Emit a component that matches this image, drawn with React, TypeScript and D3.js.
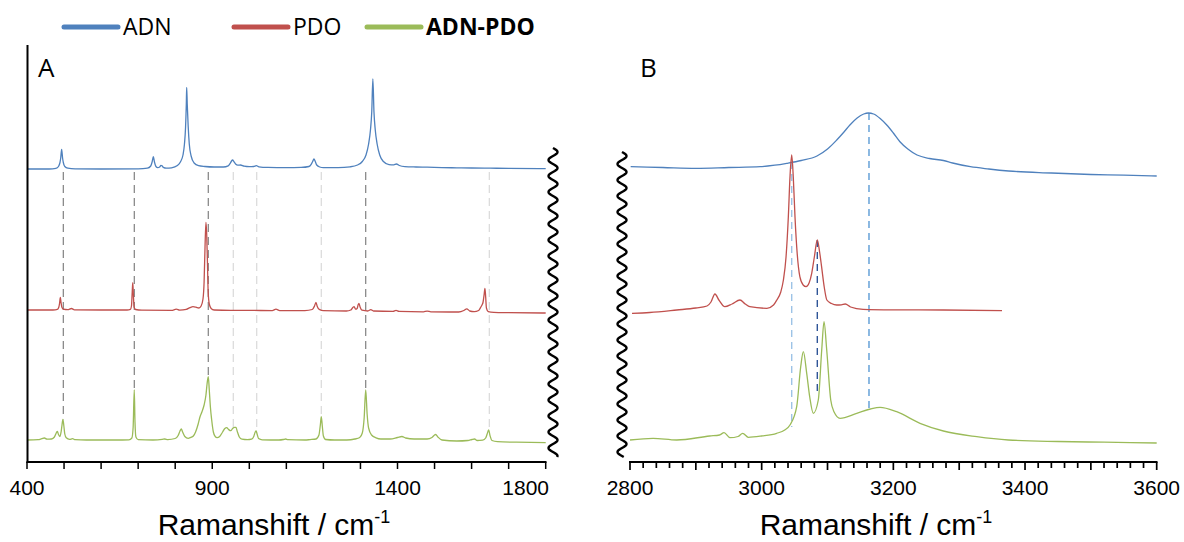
import React from "react";
import * as d3 from "d3";

const W = 1184;
const H = 542;

const legendNames = ["ADN", "PDO", "ADN-PDO"];
const legendColors = ["#4F81BD", "#C0504D", "#9BBB59"];

// ---- panel A: 400-1800 cm-1 (intensity in arbitrary, offset units) ----
const adnA: [number, number][] = [
  [400, 293], [460, 293], [478, 293.6], [485, 295.5], [489, 299.5], [491, 304], [493.5, 312.7],
  [496, 304], [498, 299.5], [502, 295.5], [510, 293.8], [530, 293.2], [600, 293], [700, 293.2],
  [725, 293.8], [734, 296], [738, 300.5], [741, 305.3], [744, 300], [748, 295.5], [753, 294.3],
  [758, 295], [761.5, 296.5], [764.5, 296.2], [768, 294.6], [776, 293.8], [790, 294.2], [806, 296.5],
  [814, 300], [821, 307], [825, 318], [828, 335], [830, 358], [831, 374.7], [832.5, 358], [835, 336],
  [838, 318], [843, 306], [851, 299], [863, 296.3], [880, 295.5], [905, 295], [930, 295], [943, 296.2],
  [949, 299], [952, 301], [955, 302], [958, 300.6], [963, 298], [969, 296.8], [976, 297], [986, 295.8],
  [1000, 295.3], [1012, 295.5], [1019, 296.3], [1026, 295.2], [1050, 294.6], [1100, 294.4],
  [1140, 294.6], [1161, 295.5], [1167, 297.6], [1171, 300.5], [1174.5, 303], [1178, 300.5],
  [1182, 297], [1190, 295], [1200, 294.4], [1240, 294.4], [1272, 295.2], [1292, 297], [1305, 300.5],
  [1315, 307], [1322, 318], [1327, 332], [1330.5, 350], [1333.5, 383], [1336.5, 350], [1340, 332],
  [1345, 318], [1352, 307], [1362, 300.5], [1377, 297.4], [1390, 297.2], [1397, 298], [1405, 296.5],
  [1420, 295.4], [1450, 295], [1480, 294.8], [1520, 294.4], [1560, 294.2], [1600, 294],
  [1650, 293.8], [1700, 293.6], [1800, 293.4],
];

const pdoA: [number, number][] = [
  [400, 152], [470, 152], [482, 152.6], [486, 155], [488, 159], [490, 164.7], [492, 159], [494, 155],
  [498, 152.8], [510, 152.3], [520, 153.5], [528, 152.2], [600, 152], [670, 152], [679, 152.6],
  [682, 156], [684, 170], [685.5, 179.3], [687, 168], [689, 155], [693, 152.5], [710, 151.8],
  [790, 151.6], [803, 152.8], [812, 151.8], [830, 152.6], [840, 154.4], [848, 155.3], [856, 154.8],
  [864, 154], [870, 156], [875, 163], [878, 180], [880.5, 215], [883, 239.7], [885, 228], [887, 200],
  [889, 170], [892, 158], [897, 153.5], [905, 152], [950, 151.6], [1000, 151.6], [1062, 151.4],
  [1072, 152.8], [1082, 151.4], [1150, 151.4], [1170, 152.5], [1176, 156], [1180, 159.7],
  [1183, 156], [1186, 153.7], [1190, 152.4], [1200, 151.3], [1262, 151], [1274, 152], [1280, 154.8],
  [1283, 155.3], [1287, 152.8], [1291, 153.5], [1294, 157.5], [1296, 158.7], [1299, 155],
  [1304, 151.8], [1320, 151], [1328, 152.4], [1335, 151], [1388, 150.6], [1396, 151.6],
  [1404, 150.6], [1470, 150.2], [1480, 150.9], [1490, 150.2], [1565, 150], [1579, 151.5],
  [1587, 153.2], [1595, 151], [1607, 150.4], [1619, 151.5], [1625, 155], [1628, 157], [1631, 160],
  [1634, 168], [1636, 173.7], [1638, 165], [1640, 154], [1645, 150.3], [1660, 149.6],
  [1700, 149.3], [1800, 149],
];

const mixA: [number, number][] = [
  [400, 22], [430, 22.3], [440, 23.3], [447, 24], [454, 22.8], [466, 23], [474, 25], [479, 29],
  [482, 30.7], [485, 27.5], [489, 25.5], [492, 30], [494.5, 37], [497, 42.7], [499.5, 36], [502, 28],
  [506, 24.2], [515, 22.6], [523, 23.3], [530, 22.3], [560, 22], [640, 22], [675, 22.2], [683, 24],
  [686.5, 35], [689.5, 72], [691.5, 40], [694, 25], [700, 22.4], [740, 22], [765, 22.6], [772, 23],
  [780, 22.4], [800, 23.5], [808, 26.5], [813, 31], [816.5, 33], [820, 30], [826, 25.5], [835, 23.7],
  [842, 24.6], [849, 26], [855, 30], [862, 38], [867, 45.3], [872, 50], [878, 57], [883, 67],
  [886, 78], [889.3, 85.3], [892, 72], [895, 55], [898.5, 42], [903, 30], [908, 25.5], [913, 24.3],
  [920, 25.5], [928, 30], [934, 33.5], [939, 34.3], [944, 32.5], [950, 31.3], [955, 33.5],
  [960, 34.7], [964, 34.6], [968, 30], [973, 25], [980, 22.8], [995, 22.3], [1006, 22.8],
  [1012, 25.5], [1016, 30], [1018.5, 31], [1021, 28], [1025, 23.5], [1035, 22.2], [1080, 22],
  [1092, 22.5], [1098, 23], [1104, 22.3], [1150, 22], [1164, 22.4], [1180, 23], [1188, 27],
  [1192, 38], [1194.3, 45.3], [1197, 36], [1200, 26], [1206, 22.5], [1230, 22], [1263, 22],
  [1285, 23], [1298, 24.5], [1305, 29], [1310, 44], [1314.2, 72], [1318, 48], [1322, 34],
  [1330, 27], [1342, 24.2], [1355, 23], [1380, 23], [1400, 24.5], [1412, 25.5], [1422, 24],
  [1445, 23], [1480, 23], [1493, 24.5], [1500, 27], [1503, 27.5], [1509, 25], [1520, 22],
  [1560, 21], [1590, 21.5], [1601, 22.5], [1608, 23], [1615, 21.5], [1630, 21.8], [1638, 24],
  [1642, 28], [1646, 32], [1650, 26], [1655, 21.5], [1670, 20.3], [1720, 19.8], [1800, 19.3],
];

// band positions marked in A, with the level where each drop line ends
const dropA = [498, 689.6, 889.3, 956.8, 1020, 1194.3, 1314.2, 1647.8];
const dropAEnd = [42.7, 72, 85.3, 33.5, 31, 45.3, 72, 32];
const dropADark = [true, true, true, false, false, false, true, false];

// ---- panel B: 2800-3600 cm-1 ----
const adnB: [number, number][] = [
  [2801, 295.3], [2850, 294.5], [2900, 293.7], [2950, 294.5], [2998, 295.3], [3020, 296.8],
  [3038, 298.7], [3060, 301.5], [3084, 306], [3100, 313], [3114, 322], [3125, 330], [3134, 337],
  [3145, 344], [3155, 348], [3162, 349], [3170, 348], [3180, 343.5], [3190, 337], [3200, 329],
  [3210, 320.3], [3222, 313], [3236, 307], [3255, 303.5], [3276, 301.5], [3290, 299],
  [3317, 295.3], [3345, 293], [3375, 291], [3440, 289], [3500, 287.5], [3550, 286.8], [3600, 286],
];

const pdoB: [number, number][] = [
  [2803, 148.7], [2830, 149.5], [2871, 152], [2900, 154], [2917, 156], [2923, 160], [2929, 168],
  [2935, 162], [2944, 155.3], [2955, 158], [2967, 162], [2975, 158], [2982, 155.3], [3008, 153.7],
  [3018, 157], [3023, 162], [3029, 170], [3033, 182], [3037, 205], [3040.5, 245.3], [3043, 285],
  [3045.6, 307], [3048, 285], [3050.6, 245.3], [3054, 208], [3058, 185.3], [3063, 177],
  [3067.4, 175.3], [3072, 179], [3076, 188.7], [3080, 205], [3084.5, 222], [3088, 210],
  [3091, 195.3], [3095, 175], [3099, 162], [3106, 158.5], [3114, 157], [3121, 157.2], [3127, 158],
  [3135, 155], [3154, 152.7], [3200, 152.2], [3276, 152], [3365, 151.3],
];

const mixB: [number, number][] = [
  [2800, 22], [2835, 23.7], [2871, 22], [2921, 26], [2936, 27], [2942.8, 29.3], [2951.9, 24.3],
  [2964, 25.5], [2971.2, 28.7], [2979.7, 24.7], [3000, 26], [3022.8, 28.7], [3035, 32], [3043, 37],
  [3053.2, 55.3], [3059.3, 95.3], [3063.3, 110.3], [3068.4, 88.7], [3073, 65], [3078.4, 48.7],
  [3086, 62], [3091.2, 112], [3094.7, 140.3], [3098.8, 112], [3104.9, 62], [3110, 50], [3119, 43.7],
  [3144.4, 48.7], [3165, 53], [3179.8, 54.7], [3205, 50.3], [3240.5, 38.7], [3276, 31],
  [3326.7, 25.3], [3374.7, 22], [3450, 20.5], [3520, 19.8], [3600, 19],
];

const dropB = [3045.6, 3084.5, 3163];
const dropBStart = [300, 222, 349];
const dropBEnd = [35, 70, 52];
const dropBColor = ["#9DC3E6", "#2F5597", "#5B9BD5"];

const ticksA = d3.range(400, 1801, 100);
const labelsA = [400, 900, 1400, 1800];
const ticksB = d3.range(2800, 3601, 20);
const labelsB = [2800, 3000, 3200, 3400, 3600];

const AXIS_Y = 462;
const xA = d3.scaleLinear().domain([400, 1800]).range([27, 545.7]);
const xB = d3.scaleLinear().domain([2800, 3600]).range([630, 1156.7]);
const y = d3.scaleLinear().domain([0, 417]).range([AXIS_Y, 45]);

const lineA = d3.line<[number, number]>().x((d) => xA(d[0])).y((d) => y(d[1])).curve(d3.curveMonotoneX);
const lineB = d3.line<[number, number]>().x((d) => xB(d[0])).y((d) => y(d[1])).curve(d3.curveMonotoneX);

// axis break squiggle
function wavy(cx: number, y0: number, y1: number, amp = 4.5, period = 16) {
  const pts: [number, number][] = [];
  for (let t = y0; t <= y1; t += 1) {
    pts.push([cx + amp * Math.sin(((t - y0) / period) * 2 * Math.PI), t]);
  }
  return d3.line()(pts) || "";
}

const tickFont = "'Liberation Sans', Arial, sans-serif";
const legendFont = "'Open Sans', 'Noto Sans', sans-serif";

export default function App() {
  return (
    <svg
      width={W}
      height={H}
      style={{ position: "absolute", left: 0, top: 0, background: "#fff" }}
    >
      {/* legend */}
      {legendNames.map((name, i) => {
        const x0 = [64, 234, 367][i];
        return (
          <g key={name}>
            <line x1={x0} x2={x0 + 54} y1={27} y2={27} stroke={legendColors[i]} strokeWidth={5} strokeLinecap="round" />
            <text x={x0 + 59} y={35} fontFamily={legendFont} fontSize={23} fontWeight={i === 2 ? 700 : 400} fill="#000">
              {name}
            </text>
          </g>
        );
      })}

      {/* panel A */}
      <text x={38} y={77} fontFamily={legendFont} fontSize={26}>A</text>
      {dropA.map((v, i) => (
        <line
          key={"da" + i}
          x1={xA(v)} x2={xA(v)} y1={y(290)} y2={y(dropAEnd[i])}
          stroke={dropADark[i] ? "#808080" : "#d9d9d9"}
          strokeWidth={1.2}
          strokeDasharray="8,5"
        />
      ))}
      <path d={lineA(adnA) || ""} fill="none" stroke={legendColors[0]} strokeWidth={1.3} />
      <path d={lineA(pdoA) || ""} fill="none" stroke={legendColors[1]} strokeWidth={1.3} />
      <path d={lineA(mixA) || ""} fill="none" stroke={legendColors[2]} strokeWidth={1.3} />

      <line x1={27.5} x2={27.5} y1={45} y2={AXIS_Y + 1} stroke="#000" strokeWidth={2} />
      <line x1={26.5} x2={546.5} y1={AXIS_Y} y2={AXIS_Y} stroke="#000" strokeWidth={2} />
      {ticksA.map((t) => (
        <line key={"ta" + t} x1={xA(t)} x2={xA(t)} y1={AXIS_Y} y2={AXIS_Y + 7} stroke="#000" strokeWidth={1.5} />
      ))}
      {labelsA.map((t) => (
        <text
          key={"la" + t}
          x={t === 1800 ? 549 : xA(t)}
          y={495}
          textAnchor={t === 1800 ? "end" : "middle"}
          fontFamily={tickFont}
          fontSize={21}
        >
          {t}
        </text>
      ))}
      <text x={274} y={535} textAnchor="middle" fontFamily={tickFont} fontSize={30}>
        Ramanshift / cm<tspan dy={-12} fontSize={18}>-1</tspan>
      </text>
      <path d={wavy(553, 148, 457)} fill="none" stroke="#000" strokeWidth={2.4} />

      {/* panel B */}
      <text x={640} y={77} fontFamily={legendFont} fontSize={26}>B</text>
      {dropB.map((v, i) => (
        <line
          key={"db" + i}
          x1={xB(v)} x2={xB(v)} y1={y(dropBStart[i])} y2={y(dropBEnd[i])}
          stroke={dropBColor[i]}
          strokeWidth={1.4}
          strokeDasharray="7,5"
        />
      ))}
      <path d={lineB(adnB) || ""} fill="none" stroke={legendColors[0]} strokeWidth={1.3} />
      <path d={lineB(pdoB) || ""} fill="none" stroke={legendColors[1]} strokeWidth={1.3} />
      <path d={lineB(mixB) || ""} fill="none" stroke={legendColors[2]} strokeWidth={1.3} />

      <line x1={629} x2={1157.5} y1={AXIS_Y} y2={AXIS_Y} stroke="#000" strokeWidth={2} />
      {ticksB.map((t) => (
        <line
          key={"tb" + t}
          x1={xB(t)} x2={xB(t)} y1={AXIS_Y}
          y2={AXIS_Y + (t % 100 === 0 ? 8 : 6)}
          stroke="#000"
          strokeWidth={1.7}
        />
      ))}
      {labelsB.map((t) => (
        <text key={"lb" + t} x={xB(t)} y={495} textAnchor="middle" fontFamily={tickFont} fontSize={21}>
          {t}
        </text>
      ))}
      <text x={876} y={535} textAnchor="middle" fontFamily={tickFont} fontSize={30}>
        Ramanshift / cm<tspan dy={-12} fontSize={18}>-1</tspan>
      </text>
      <path d={wavy(622, 152, 457)} fill="none" stroke="#000" strokeWidth={2.4} />
    </svg>
  );
}
